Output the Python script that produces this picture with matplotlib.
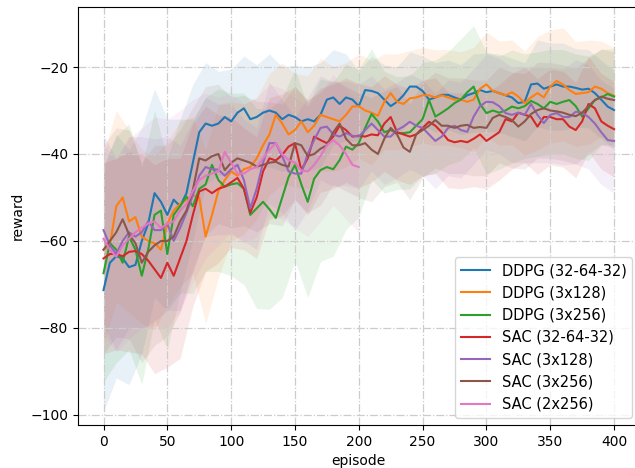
import matplotlib
matplotlib.use('Agg')
import matplotlib.pyplot as plt
import numpy as np

# smoothed mean reward, sampled every 5 episodes
episodes = np.arange(0, 401, 5)

ddpg_32_64_32 = [
    -71.3, -65, -63.5, -64, -66, -65.5, -60, -56, -49, -51,
    -54, -50.5, -52, -49, -42, -35, -33, -33.5, -33, -31.5,
    -32.5, -30.5, -29.5, -32, -31.5, -30.5, -30, -30.5, -32, -31,
    -31.5, -32.5, -32, -32.5, -31, -27.5, -27, -28.5, -27, -27.5,
    -29, -25.3, -25.5, -26, -27.5, -29, -28, -26.5, -24.5, -24.5,
    -25.5, -27.5, -27, -26.4, -26.4, -27, -27.5, -26.5, -26, -25.3,
    -25.8, -25.5, -26, -26.5, -27, -28.3, -28, -24, -23.8, -25,
    -24.5, -24, -24.5, -24.5, -24.8, -25.2, -25, -26, -27.5, -29.1,
    -29.9]
ddpg_3x128 = [
    -62, -61, -52, -50, -55.5, -54.5, -59, -60, -60.5, -62,
    -56, -53, -51.5, -50.5, -49.5, -50, -59, -54, -48.5, -46,
    -44, -45, -43.5, -43, -41, -38, -35.5, -31, -33, -35.5,
    -34.5, -32.5, -35, -33.5, -31, -31.5, -32, -32.5, -31, -29.1,
    -29, -30, -30.5, -31.2, -28, -26, -28, -28.5, -27.2, -27,
    -26.5, -26.5, -27, -26.5, -27, -27.5, -27.5, -28, -27.5, -25,
    -24, -25.5, -26, -26.5, -25.8, -26.8, -28.3, -27, -26, -27,
    -24.5, -23.2, -24, -25.3, -26.2, -26, -25.8, -24.5, -25, -26,
    -26.6]
ddpg_3x256 = [
    -67.4, -60.5, -62, -65, -59, -62, -68, -62, -54, -53,
    -63, -54, -52, -49.8, -52, -48, -47, -42.5, -46, -47.5,
    -47, -46.7, -48, -54, -52.5, -51, -52.7, -54.7, -50, -45.3,
    -42.5, -47, -51, -45.7, -43.7, -43, -43.5, -41.4, -38.3, -39,
    -37.5, -34, -30.8, -32.5, -35, -34.5, -35.2, -35.2, -35, -33.5,
    -32, -27.6, -31.4, -30.5, -29.5, -28.3, -27.5, -25.8, -24.5, -28.5,
    -30.6, -30, -30.5, -30, -29.1, -29.5, -29, -27.8, -28.5, -29.5,
    -28, -28.5, -28, -27.6, -29, -31.4, -29.5, -27.6, -27, -26.2,
    -26.8]
sac_32_64_32 = [
    -64, -63, -63, -63.5, -62.5, -62.3, -63, -64.5, -66.5, -68.5,
    -65, -68, -64, -60, -54, -48.6, -48, -49, -48, -47.5,
    -46.5, -45.5, -48, -53.5, -50, -44, -41, -41.5, -40.2, -38.3,
    -37.5, -43.7, -41, -36, -36.8, -37.5, -36, -33.5, -34.5, -36,
    -35.8, -36, -35.5, -35.7, -33, -31.5, -35, -35.5, -36, -35.5,
    -34, -32.6, -33.5, -35, -36.8, -37.3, -37, -37.3, -36.5, -35.5,
    -37, -36, -35, -32, -32.5, -30.5, -31, -31.4, -33.7, -31.5,
    -31.5, -32, -32, -33.7, -34.5, -32.5, -28.5, -29.5, -32.5, -33.5,
    -34.3]
sac_3x128 = [
    -57.5, -61, -63, -60, -58, -59, -58, -55.5, -57.5, -57.5,
    -56, -60, -57, -53.5, -49.5, -45, -43, -43.5, -43.6, -45,
    -43.5, -42.5, -46, -52.5, -48, -42, -37.5, -37.5, -40.5, -44,
    -44.5, -44.5, -40, -36.8, -34, -33.7, -35.5, -36, -35.2, -35.8,
    -36, -34.5, -33, -34.5, -36, -36, -34.5, -33.7, -32.6, -33.5,
    -34, -35.5, -37, -36, -34, -33.5, -34.5, -34.9, -31.4, -29,
    -28, -28.1, -29, -30.6, -31, -30.5, -31, -28.5, -31, -32.9,
    -31, -30.6, -31.5, -31.5, -30.3, -30.5, -31.5, -33, -35, -36.8,
    -37]
sac_3x256 = [
    -62, -60, -58, -55, -58.5, -60.5, -65, -62.5, -61, -60,
    -60, -59, -55.5, -53, -48.3, -41, -41.5, -40.5, -40, -43.7,
    -42, -41, -41.5, -42, -42.9, -42.5, -42, -41.8, -42.5, -42.9,
    -37.5, -38, -40.5, -40, -38.8, -38, -35, -33, -36.5, -38,
    -38, -37.5, -39, -40, -36.5, -34, -35.5, -38.5, -39.5, -35.5,
    -34.5, -33.5, -32.2, -33.5, -33.5, -34, -33.5, -33.3, -34, -33.8,
    -34, -31.7, -31, -31.5, -32.2, -33.7, -32.5, -30.8, -29.9, -29.5,
    -30, -30.2, -30.5, -31, -31.3, -30.5, -29, -27.6, -26.8, -27.3,
    -27.6]
sac_2x256 = [
    -59.5, -62, -63.6, -61, -59.5, -58, -57, -56, -55.5, -57,
    -56, -55.5, -53, -51.5, -48.5, -46, -45, -44.5, -44, -39.5,
    -42, -44.5, -44.5, -43.5, -43, -41, -39, -37.5, -40, -41.4,
    -42, -43.8, -44, -42.5, -40.5, -38, -36.8, -38, -40, -42.5,
    -43]

# standard deviation across runs, every 10 episodes
ddpg_32_64_32_std = [28, 28, 27, 26, 24, 22, 20, 18, 14, 12,
                     12, 12, 12, 13, 12, 12, 12, 12, 11, 10,
                     8, 8, 8, 8, 8, 8, 8, 8, 8, 9,
                     9, 9, 9, 9, 10, 10, 10, 9, 9, 9, 9]
ddpg_3x128_std = [22, 22, 21, 20, 20, 19, 19, 18, 20, 20,
                  16, 15, 14, 14, 14, 13, 13, 13, 12, 12,
                  12, 12, 11, 11, 11, 11, 11, 11, 11, 12,
                  12, 12, 12, 12, 13, 13, 13, 12, 12, 11, 11]
ddpg_3x256_std = [25, 26, 26, 25, 24, 22, 20, 20, 20, 21,
                  21, 22, 23, 23, 23, 22, 22, 21, 20, 19,
                  17, 15, 14, 13, 13, 13, 13, 13, 14, 14,
                  14, 13, 13, 12, 12, 12, 12, 12, 12, 11, 11]
sac_32_64_32_std = [22, 22, 23, 23, 24, 24, 23, 21, 19, 17,
                    15, 14, 14, 14, 14, 13, 13, 12, 12, 12,
                    12, 11, 11, 11, 11, 11, 11, 11, 11, 11,
                    11, 11, 11, 11, 11, 11, 11, 11, 11, 11, 11]
sac_3x128_std = [22, 22, 22, 22, 21, 20, 19, 17, 16, 15,
                 15, 14, 14, 14, 13, 13, 13, 12, 12, 12,
                 12, 11, 11, 11, 11, 11, 11, 11, 11, 11,
                 11, 11, 11, 11, 11, 11, 11, 12, 12, 12, 12]
sac_3x256_std = [24, 24, 24, 23, 23, 22, 21, 19, 17, 16,
                 15, 15, 15, 14, 14, 13, 13, 13, 12, 12,
                 12, 12, 11, 11, 11, 11, 11, 11, 11, 11,
                 11, 11, 11, 11, 11, 11, 11, 11, 11, 11, 11]
sac_2x256_std = [22, 22, 23, 23, 24, 24, 23, 21, 19, 17,
                 16, 16, 16, 15, 15, 15, 15, 15, 15, 15, 15]

runs = [
    ('DDPG (32-64-32)', ddpg_32_64_32, ddpg_32_64_32_std),
    ('DDPG (3x128)', ddpg_3x128, ddpg_3x128_std),
    ('DDPG (3x256)', ddpg_3x256, ddpg_3x256_std),
    ('SAC (32-64-32)', sac_32_64_32, sac_32_64_32_std),
    ('SAC (3x128)', sac_3x128, sac_3x128_std),
    ('SAC (3x256)', sac_3x256, sac_3x256_std),
    ('SAC (2x256)', sac_2x256, sac_2x256_std),
]

fig = plt.figure(figsize=(6.35, 4.68), dpi=100)
# axes runs a little past the right edge of the canvas
ax = fig.add_axes([0.1228, 0.0919, 0.8844, 0.8932])

for i, (label, mean, std) in enumerate(runs):
    mean = np.array(mean)
    x = episodes[:len(mean)]
    ax.fill_between(x[::2], mean[::2] - np.array(std), mean[::2] + np.array(std),
                    color='C%d' % i, alpha=0.1, linewidth=0)

for i, (label, mean, std) in enumerate(runs):
    ax.plot(episodes[:len(mean)], mean, color='C%d' % i, lw=1.5, label=label)

ax.set_xlim(-20, 420)
ax.set_ylim(-102.3, -6.2)
ax.set_xticks(range(0, 401, 50))
ax.set_yticks(range(-100, -19, 20))
ax.tick_params(labelsize=10)
ax.grid(True, linestyle='-.', color='#cccccc', linewidth=0.9)
ax.set_xlabel('episode', fontsize=10)
ax.set_ylabel('reward', fontsize=10)
ax.legend(loc='lower right', fontsize=10.5)

fig.savefig('out.png', dpi=100)
